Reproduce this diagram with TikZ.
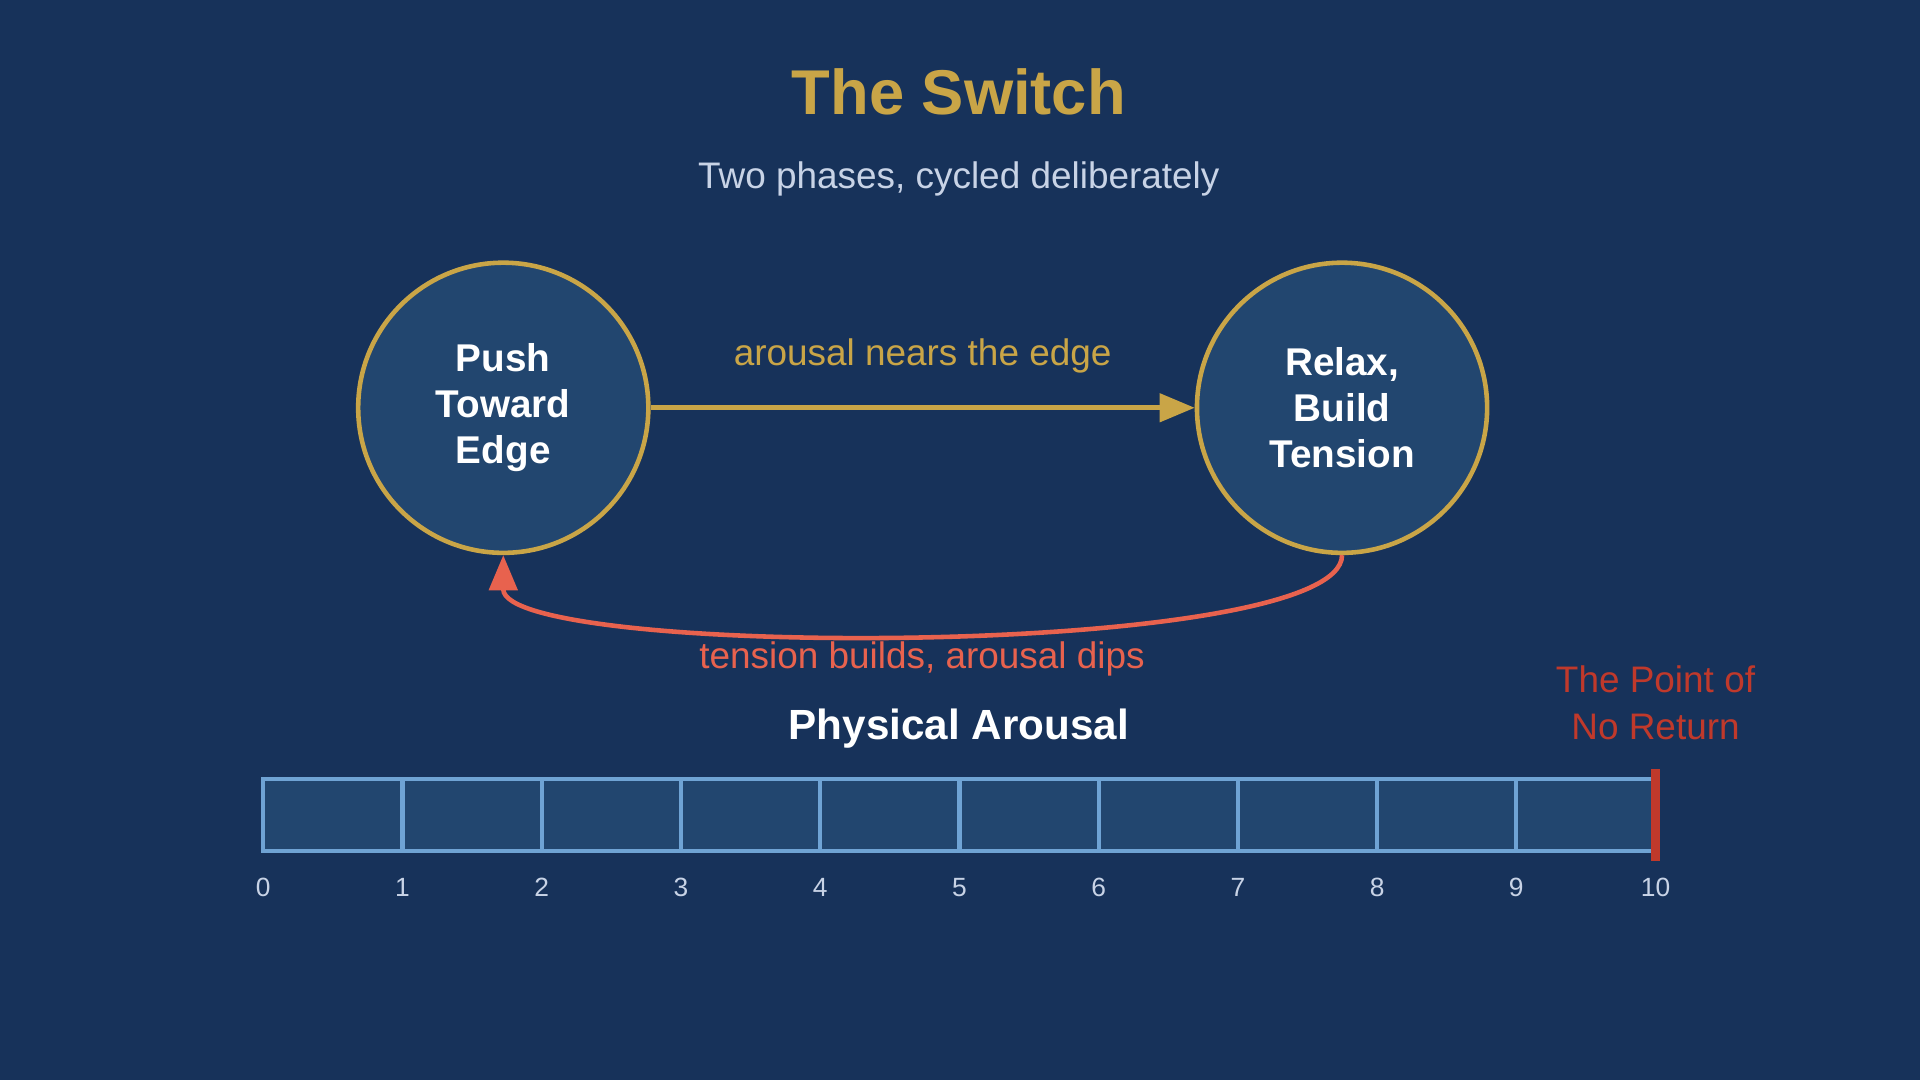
\documentclass[tikz,border=0pt]{standalone}
\usepackage{fontspec}
\setmainfont{Liberation Sans}
\usetikzlibrary{arrows.meta}
\usetikzlibrary{positioning}

\definecolor{bgblue}{HTML}{17325A}
\definecolor{cellblue}{HTML}{22466F}
\definecolor{gold}{HTML}{C9A547}
\definecolor{coral}{HTML}{E8624E}
\definecolor{barline}{HTML}{6FA3D4}
\definecolor{subgrey}{HTML}{C8D3E6}
\definecolor{markred}{HTML}{C0392B}

\tikzset{
    phase/.style={draw=gold, line width=1.3pt, fill=cellblue, circle, minimum size=2.9cm,
        align=center, text=white, font=\fontsize{11}{13}\selectfont\bfseries},
    cell/.style={draw=barline, line width=1.2pt, fill=cellblue},
    tick/.style={text=subgrey, font=\fontsize{7.5}{9}\selectfont}
}

\begin{document}
\begin{tikzpicture}[x=0.012245cm, y=-0.012245cm]
        \fill[bgblue] (0, 0) rectangle (1568, 882);

        \draw (783, 75) node[text=gold, font=\fontsize{18}{22}\selectfont\bfseries] (title) {The Switch};
        \draw (783, 146) node[text=subgrey, font=\fontsize{10.5}{13}\selectfont] (sub) {Two phases, cycled deliberately};

        \draw (411, 333) node[phase] (push) {Push\\Toward\\Edge};
        \draw (1096, 333) node[phase] (relax) {Relax,\\Build\\Tension};

        \draw[gold, line width=1.3pt, -{Triangle[length=10pt, width=8pt]}] (push) -- (relax)
            node[midway, above=6pt, font=\fontsize{10.5}{13}\selectfont] (nears) {arousal nears the edge};
        \draw[coral, line width=1.3pt, -{Triangle[length=10pt, width=8pt]}] (relax.south)
            .. controls +(0, 85) and +(0, 85) .. (push.south);
        \draw (753, 538) node[text=coral, font=\fontsize{10.5}{13}\selectfont] (dips) {tension builds, arousal dips};

        \draw (783, 595) node[text=white, font=\fontsize{12}{14}\selectfont\bfseries] (bartitle) {Physical Arousal};

        % the scale, one cell per step
        \foreach \i in {0,...,9} {
            \draw[cell] (215 + \i*113.7, 636) rectangle (215 + \i*113.7 + 113.7, 695);
        }
        \foreach \i in {0,...,10} {
            \draw (215 + \i*113.7, 725) node[tick] (t\i) {\i};
        }
        \draw[markred, line width=2.6pt] (1352, 628) -- (1352, 703);
        \draw (1352, 574) node[text=markred, align=center, font=\fontsize{10.5}{13.5}\selectfont] (pnr) {The Point of\\No Return};
    \end{tikzpicture}
\end{document}
